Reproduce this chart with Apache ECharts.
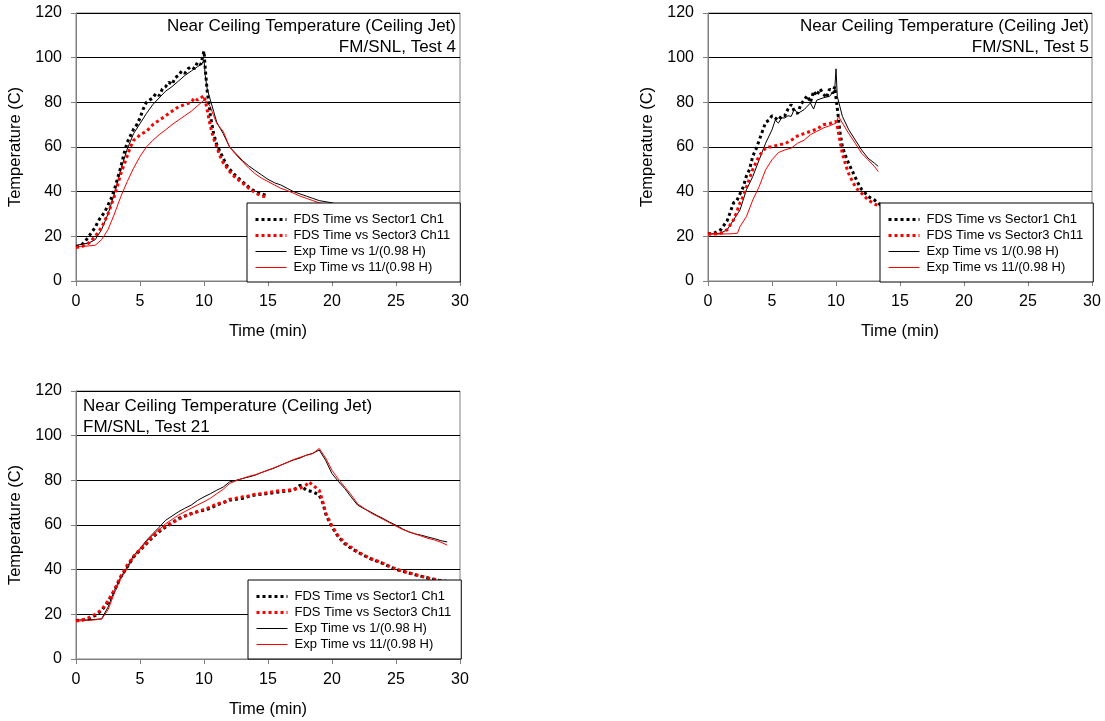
<!DOCTYPE html>
<html>
<head>
<meta charset="utf-8">
<script src="https://cdn.jsdelivr.net/npm/echarts@6/dist/echarts.min.js"></script>
<style>html,body{margin:0;padding:0;background:#fff}#c{width:1105px;height:721px}</style>
</head>
<body>
<div id="c"></div>
<script>
// ---------- Data ----------
const xTicks = [0, 5, 10, 15, 20, 25, 30];
const yTicks = [0, 20, 40, 60, 80, 100, 120];
const seriesNames = ['FDS Time vs Sector1 Ch1', 'FDS Time vs Sector3 Ch11', 'Exp Time vs 1/(0.98 H)', 'Exp Time vs 11/(0.98 H)'];
const titles = ['Near Ceiling Temperature (Ceiling Jet)\nFM/SNL, Test 4', 'Near Ceiling Temperature (Ceiling Jet)\nFM/SNL, Test 5', 'Near Ceiling Temperature (Ceiling Jet)\nFM/SNL, Test 21'];

// Test 4
const t4_fds1_t = [0,0.25,0.5,0.75,1,1.25,1.5,1.75,2,2.25,2.5,2.75,3,3.25,3.5,3.75,4,4.25,4.5,4.75,5,5.25,5.5,5.75,6,6.25,6.5,6.75,7,7.25,7.5,7.75,8,8.25,8.5,8.75,9,9.25,9.5,9.75,10,10.1,10.25,10.5,10.75,11,11.25,11.5,11.75,12,12.5,13,13.5,14,14.5,15];
const t4_fds1_v = [15.4,15.5,16.5,18,20,22,24,27,29,31,34,37,41,46,51,57,62,65,68,70,73,77,80,81,82,84,83,86,87,89,88,91,92,94,93,95,96,95,98,97,103,95,85,74,66,61,58,55,52,50,47,44.5,42,40,39,38];
const t4_fds11_t = [0,0.5,1,1.5,2,2.25,2.5,2.75,3,3.25,3.5,3.75,4,4.25,4.5,4.75,5,5.5,6,6.5,7,7.5,8,8.5,9,9.25,9.5,9.75,10,10.2,10.4,10.6,10.8,11,11.25,11.5,11.75,12,12.5,13,13.5,14,14.5,14.8];
const t4_fds11_v = [15,15.5,17,20,24,27,30,34,38,43,48,52,56,60,63,64,65.5,67,70,72,74,76,78,79,80,82,81,82,83,78,72,67,63,60,56,53,51,49,46,44,41.5,39.5,38,37.8];
const t4_exp1_t = [0,0.5,1,1.5,2,2.5,3,3.5,4,4.5,5,5.5,6,6.5,7,7.5,8,8.5,9,9.5,9.8,10,10.1,10.25,10.5,10.75,11,11.5,12,12.5,13,13.5,14,14.5,15,15.5,16,16.5,17,17.5,18,18.5,19,20,21,22,24,26];
const t4_exp1_v = [16,16.5,17,18.5,23,30,39,50,59,66,70.5,75,79,82,85,87,89.5,92,94,96,97,99,92,86,81,76,71,66,60,57,54,51.5,49.5,47.5,45.5,44,43,41.5,40,39,38,37,36,35,33.5,32.5,31,30];
const t4_exp11_t = [0,1,1.5,2,2.5,3,3.5,4,4.5,5,5.5,6,6.5,7,7.5,8,8.5,9,9.5,10,10.25,10.5,10.75,11,11.5,12,12.5,13,13.5,14,14.5,15,15.5,16,16.5,17,17.5,18,18.5,19,20,21,22,24,26];
const t4_exp11_v = [15.4,15.7,16,18.5,23,30,37.8,44.5,50.5,55.8,60,63,65.5,67.7,70,72,74,76,78.5,81,80,78,74,70.5,67,60,56.5,53.5,50.5,48,46,44.5,43,41.5,40.5,39.3,38,37,36,35,34,33,32,30.5,29.5];

// Test 5
const t5_fds1_t = [0,0.5,1,1.25,1.5,1.75,2,2.25,2.5,2.75,3,3.25,3.5,3.75,4,4.25,4.5,4.75,5,5.25,5.5,5.75,6,6.25,6.5,6.75,7,7.25,7.5,7.75,8,8.25,8.5,8.75,9,9.25,9.5,9.75,9.9,10,10.15,10.3,10.5,10.75,11,11.25,11.5,11.75,12,12.25,12.5,12.75,13,13.25,13.5];
const t5_fds1_v = [21,21.5,23,25,27,31,35,36,39,42,47,50,56,59,63,67,71,72,74,73,72,74,74,77,79,76,75,79,81,83,80,85,83,86,84,82,86,84,87,82,75,67,60,56,52.5,49.5,46.5,43.5,41,39.5,38,37,36.3,35,34];
const t5_fds11_t = [0,0.5,1,1.5,2,2.25,2.5,2.75,3,3.25,3.5,3.75,4,4.25,4.5,4.75,5,5.5,6,6.5,7,7.5,8,8.5,9,9.5,10,10.15,10.3,10.5,10.75,11,11.25,11.5,11.75,12,12.5,13,13.5];
const t5_fds11_v = [21,21,21.4,23,27.4,31,35,38,42,46,50,53,56,58,59.5,60,60,61,61.4,63,65,66,67,68,70,70.5,71.5,68,63,57,52,48,45,42.3,40.5,39.3,36.3,34.5,33.3];
const t5_exp1_t = [0,1,1.5,2,2.5,3,3.5,4,4.5,5,5.25,5.5,5.75,6,6.25,6.5,6.75,7,7.5,8,8.25,8.5,9,9.5,9.9,10,10.1,10.5,11,11.5,12,12.5,13,13.3];
const t5_exp1_v = [21,21.4,23,27.4,31.8,40.8,46.8,54.3,61.7,67.7,72,70.7,73,73,74,73.7,77,75,76.7,79.7,77,81,82,82.7,85.6,95,82.7,73.7,67.7,63.2,58.7,55,52.8,51.3];
const t5_exp11_t = [0,1,2,2.3,2.5,3,3.5,4,4.5,5,5.5,6,6.5,7,7.5,8,8.5,9,9.5,10,10.2,10.5,11,11.5,12,12.5,13,13.3];
const t5_exp11_v = [21,21,21.2,21.4,24.4,28.8,36.3,42.3,49.8,54.3,57.5,58.7,59.5,61.7,63,65.5,67,68.5,69.5,70.7,73.7,70.7,66,61.7,57.2,54.3,51.3,49];

// Test 21
const t21_fds1_t = [0,0.5,1,1.5,2,2.5,3,3.5,4,4.5,5,5.5,6,6.5,7,7.5,8,8.5,9,9.5,10,10.5,11,11.5,12,12.5,13,13.5,14,14.5,15,15.5,16,16.5,17,17.5,18,18.5,19,19.3,19.5,19.75,20,20.5,21,21.5,22,22.5,23,23.5,24,24.5,25,25.5,26,26.5,27,27.5,28,28.5,29];
const t21_fds1_v = [17.2,17.5,18,19.5,21.7,25.4,30.7,36.7,41.2,45.7,48.7,51.6,54.6,57,59.1,61,62.9,64,65.1,66,66.6,67.5,68.9,70,71.1,71.5,71.9,72.8,73.4,73.8,74.1,74.5,74.9,75.2,75.6,77.8,75.6,74.9,73.4,69.6,65,62,59.1,54.6,51.6,49.5,47.9,46.3,44.9,43.8,42.7,41.3,40.1,39.3,38.5,37.7,37,36.3,35.6,35.1,34.7];
const t21_fds11_t = [0,0.5,1,1.5,2,2.5,3,3.5,4,4.5,5,5.5,6,6.5,7,7.5,8,8.5,9,9.5,10,10.5,11,11.5,12,12.5,13,13.5,14,14.5,15,15.5,16,16.5,17,17.5,18,18.2,18.5,19,19.3,19.5,19.75,20,20.5,21,21.5,22,22.5,23,23.5,24,24.5,25,25.5,26,26.5,27,27.5,28,28.5,29];
const t21_fds11_v = [17,17.5,18.5,20,22,26,31,37,42,46,49,52,55,57.5,59.5,61,62.5,64,65,66,67,68,69.5,70,71.5,72,72.6,73,73.8,74,74.5,75,75.5,75.5,76,76.5,78,79.3,77.8,75.6,70,65.5,62.5,59.5,55,52,50,48,46.5,45,44,42.8,41.5,40.3,39.4,38.6,37.8,37,36.3,35.7,35,34.5];
const t21_exp1_t = [0,1,2,2.5,3,3.5,4,4.5,5,5.5,6,6.5,7,7.5,8,8.5,9,9.5,10,10.5,11,11.5,12,12.5,13,13.5,14,14.5,15,15.5,16,16.5,17,17.5,18,18.5,19,19.5,20,20.5,21,21.5,22,22.5,23,23.5,24,24.5,25,25.5,26,26.5,27,27.5,28,28.5,29];
const t21_exp1_v = [17.5,17.5,18,23.2,30.7,36.7,41.2,46.4,49.4,53.1,56.1,59,62.1,64,65.9,67.5,68.9,71,72.6,74,75.6,77,79.3,80,80.8,81.5,82.3,83.5,84.6,85.5,86.8,88,89.1,90,91.3,92.1,93.6,89,83,79.5,76.3,72.5,68.9,67.3,65.9,64.3,62.9,61.3,59.9,58.3,56.9,56,55.4,54.6,53.9,53,52.4];
const t21_exp11_t = [0,1,2,2.5,3,3.5,4,4.5,5,5.5,6,6.5,7,7.5,8,8.5,9,9.5,10,10.5,11,11.5,12,12.5,13,13.5,14,14.5,15,15.5,16,16.5,17,17.5,18,18.5,19,19.5,20,20.5,21,21.5,22,22.5,23,23.5,24,24.5,25,25.5,26,26.5,27,27.5,28,28.5,29];
const t21_exp11_v = [17,17.3,17.8,22,29.5,36,40.5,45.5,49,52.5,55.5,58,60.5,62.5,64.4,66,67.5,69,70.4,72,74,76,78.6,79.8,80.8,81.8,82.5,83.5,84.5,85.7,86.8,88,89.3,90.3,91.2,92,94.3,90,84.5,80.5,77,73.5,69.5,67.5,65.5,64,62.5,61,59.5,58,57,56,55,54,53.3,52.3,51];

// ---------- Build chart ----------
const zip = (t, v) => t.map((x, i) => [x, v[i]]);
const panels = [
  [[t4_fds1_t, t4_fds1_v], [t4_fds11_t, t4_fds11_v], [t4_exp1_t, t4_exp1_v], [t4_exp11_t, t4_exp11_v]],
  [[t5_fds1_t, t5_fds1_v], [t5_fds11_t, t5_fds11_v], [t5_exp1_t, t5_exp1_v], [t5_exp11_t, t5_exp11_v]],
  [[t21_fds1_t, t21_fds1_v], [t21_fds11_t, t21_fds11_v], [t21_exp1_t, t21_exp1_v], [t21_exp11_t, t21_exp11_v]]
];
const FONT = 'Liberation Sans, Arial, sans-serif';
const grids = [
  { left: 76, top: 13, width: 384, height: 268 },
  { left: 708, top: 13, width: 384, height: 268 },
  { left: 76, top: 391, width: 384, height: 268 }
];
const seriesStyle = [
  { color: '#000000', width: 3, type: [3, 3] },
  { color: '#ff0000', width: 3, type: [3, 3] },
  { color: '#000000', width: 1, type: 'solid' },
  { color: '#ff0000', width: 1, type: 'solid' }
];
const titleText = { fontFamily: FONT, fontSize: 17, fontWeight: 'normal', color: '#000', lineHeight: 21 };
const legendData = seriesNames.map((n, i) => ({
  name: n,
  lineStyle: { width: seriesStyle[i].width, type: seriesStyle[i].type, color: seriesStyle[i].color }
}));

const option = {
  backgroundColor: '#ffffff',
  animation: false,
  textStyle: { fontFamily: FONT },
  title: [
    { text: titles[0], left: 456, top: 16, textAlign: 'right', padding: 0, textStyle: titleText },
    { text: titles[1], left: 1089, top: 16, textAlign: 'right', padding: 0, textStyle: titleText },
    { text: titles[2], left: 83, top: 396, textAlign: 'left', padding: 0, textStyle: titleText }
  ],
  grid: grids.map(g => Object.assign({ show: true, borderColor: '#808080', borderWidth: 1, backgroundColor: 'transparent' }, g)),
  xAxis: grids.map((g, i) => ({
    type: 'value', gridIndex: i, min: xTicks[0], max: xTicks[xTicks.length - 1], interval: 5,
    name: 'Time (min)', nameLocation: 'middle', nameGap: 42,
    nameTextStyle: { fontFamily: FONT, fontSize: 16.5, color: '#000' },
    axisLine: { show: true, lineStyle: { color: '#808080' } },
    axisTick: { show: true, inside: false, length: 5, lineStyle: { color: '#808080' } },
    axisLabel: { fontFamily: FONT, fontSize: 16, color: '#000', margin: 13 },
    splitLine: { show: false }
  })),
  yAxis: grids.map((g, i) => ({
    type: 'value', gridIndex: i, min: yTicks[0], max: yTicks[yTicks.length - 1], interval: 20,
    name: 'Temperature (C)', nameLocation: 'middle', nameGap: 52, nameRotate: 90,
    nameTextStyle: { fontFamily: FONT, fontSize: 16.5, color: '#000' },
    axisLine: { show: true, lineStyle: { color: '#808080' } },
    axisTick: { show: true, inside: false, length: 5, lineStyle: { color: '#808080' } },
    axisLabel: { fontFamily: FONT, fontSize: 16, color: '#000', margin: 14 },
    splitLine: { show: true, lineStyle: { color: '#000000', width: 1 } }
  })),
  legend: [
    { left: 247, top: 203 },
    { left: 880, top: 203 },
    { left: 248, top: 580 }
  ].map(p => Object.assign({
    orient: 'vertical', data: legendData,
    backgroundColor: '#ffffff', borderColor: '#000000', borderWidth: 1,
    padding: [10, 10, 8, 7], itemWidth: 31, itemHeight: 13, itemGap: 3,
    selectedMode: false,
    itemStyle: { color: 'rgba(0,0,0,0)', borderWidth: 0, opacity: 0 },
    textStyle: { fontFamily: FONT, fontSize: 13, color: '#000', padding: [0, 0, 0, 2] }
  }, p)),
  series: []
};

panels.forEach((panel, pi) => {
  panel.forEach((pair, si) => {
    const st = seriesStyle[si];
    option.series.push({
      type: 'line', name: seriesNames[si], xAxisIndex: pi, yAxisIndex: pi,
      data: zip(pair[0], pair[1]),
      showSymbol: false, symbol: 'none', clip: true, z: si < 2 ? 3 : 2,
      color: st.color,
      lineStyle: { color: st.color, width: st.width, type: st.type, cap: 'butt' },
      emphasis: { disabled: true }
    });
  });
});

const chart = echarts.init(document.getElementById('c'), null, { renderer: 'canvas' });
chart.setOption(option);
</script>
</body>
</html>
